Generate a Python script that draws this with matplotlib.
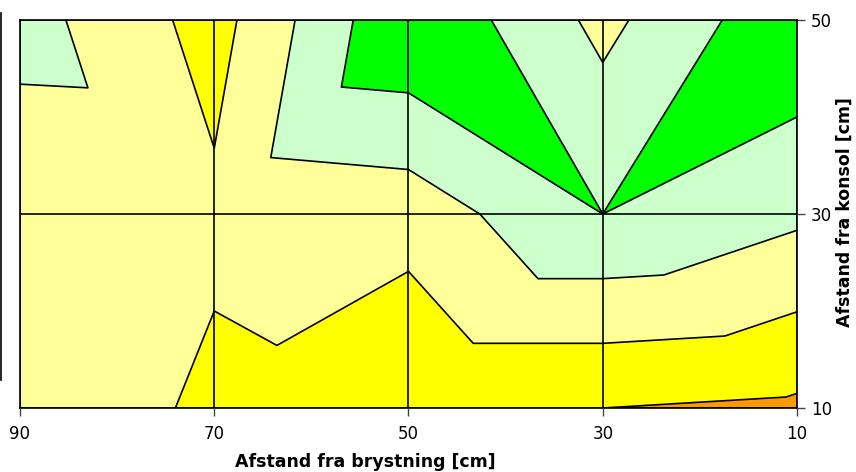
import numpy as np
import matplotlib
matplotlib.use("Agg")
import matplotlib.pyplot as plt
import matplotlib.tri as mtri
from matplotlib.lines import Line2D

# grid of the surface (x = afstand fra brystning, y = afstand fra konsol)
xs = [90, 70, 50, 30, 10]
ys = [10, 30, 50]
z_y10 = [2.80, 1.80, 1.00, 1.00, 0.82]
z_y30 = [2.13, 2.20, 2.42, 4.00, 3.20]
z_y50 = [3.43, 1.61, 4.95, 2.72, 4.80]

levels = [0, 1, 2, 3, 4, 5]
band_colors = ["#FF9900", "#FFFF00", "#FFFF99", "#CCFFCC", "#00FF00"]

x_ticks = [90, 70, 50, 30, 10]
y_ticks = [10, 30, 50]

z_rows = [z_y10, z_y30, z_y50]
X, Y = np.meshgrid(xs, ys)
Z = np.array(z_rows)
nx = len(xs)

# split every cell in two triangles, along the diagonal with the larger sum
tris = []
for j in range(len(ys) - 1):
    for i in range(nx - 1):
        p00 = j * nx + i
        p10 = j * nx + i + 1
        p01 = (j + 1) * nx + i
        p11 = (j + 1) * nx + i + 1
        if Z[j, i] + Z[j + 1, i + 1] >= Z[j, i + 1] + Z[j + 1, i]:
            tris += [[p00, p10, p11], [p00, p11, p01]]
        else:
            tris += [[p00, p10, p01], [p10, p11, p01]]

tri = mtri.Triangulation(X.ravel(), Y.ravel(), tris)

plt.rcParams['font.family'] = ['DejaVu Sans']
fig = plt.figure(figsize=(8.56, 4.72), dpi=100)
ax = fig.add_axes([20 / 856, 1 - 408 / 472, 777 / 856, 388 / 472])

ax.tricontourf(tri, Z.ravel(), levels=levels, colors=band_colors)
ax.tricontour(tri, Z.ravel(), levels=levels[1:-1], colors="black", linewidths=1.2)

ax.set_xlim(90, 10)
ax.set_ylim(10, 50)
ax.set_xticks(x_ticks)
ax.set_yticks(y_ticks)
ax.yaxis.tick_right()
ax.yaxis.set_label_position("right")
ax.tick_params(axis="both", labelsize=12, length=6, width=1, color="#444444")
ax.tick_params(axis="x", pad=6)
ax.tick_params(axis="y", pad=4)
ax.grid(True, color="black", linewidth=1.2)
ax.set_axisbelow(False)
for s in ax.spines.values():
    s.set_linewidth(1.2)
    s.set_color("black")

ax.set_xlabel("Afstand fra brystning [cm]", fontsize=12.5, fontweight="bold",
              va="center", ha="center")
ax.xaxis.set_label_coords(0.444, -0.139)
ax.set_ylabel("Afstand fra konsol [cm]", fontsize=12.5, fontweight="bold",
              rotation=90, va="center", ha="center")
ax.yaxis.set_label_coords(1.062, 0.504)

# edge of the (cut off) legend box at the far left
fig.add_artist(Line2D([1 / 856, 1 / 856], [1 - 380 / 472, 1 - 13 / 472],
                      color="black", linewidth=1.2, transform=fig.transFigure))

fig.savefig("out.png", dpi=100)
